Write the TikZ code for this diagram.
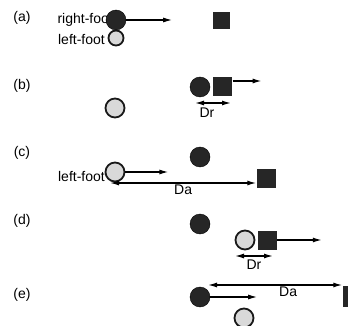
\documentclass[tikz,border=0pt]{standalone}
\usepackage{fontspec}
\setmainfont{Liberation Sans}
\usetikzlibrary{positioning,arrows.meta}
\begin{document}
\begin{tikzpicture}[x=1pt, y=-1pt,
    rfoot/.style={circle, draw=black, fill=black!85, minimum size=20pt, inner sep=0pt},
    lfoot/.style={circle, draw=black!90, line width=1.8pt, fill=gray!30, minimum size=18pt, inner sep=0pt},
    target/.style={rectangle, fill=black!85, minimum size=19pt, inner sep=0pt},
    lbl/.style={font=\fontsize{14}{16}\selectfont, inner sep=1pt},
    mv/.style={-{Latex[length=9pt, width=5pt]}, line width=1.3pt},
    dist/.style={{Latex[length=9pt, width=5pt]}-{Latex[length=9pt, width=5pt]}, line width=1.3pt}]
    \useasboundingbox (0,0) rectangle (348,326);
    \clip (0,0) rectangle (348,326);

    % (a)
    \node [lbl] (tagA) at (22,18) {(a)};
    \node [lbl, anchor=east] (rtextA) at (114,20) {right-foot};
    \node [lbl, anchor=east] (ltextA) at (106,39) {left-foot};
    \node [rfoot] (rfootA) at (116,20) {};
    \node [lfoot, minimum size=15pt] (lfootA) at (116,38) {};
    \node [target, minimum size=17pt] (targetA) at (221,21) {};
    \coordinate [right=46pt of rfootA] (goA);
    \draw [mv] (rfootA) -- (goA);

    % (b)
    \node [lbl] (tagB) at (22,86) {(b)};
    \node [rfoot] (rfootB) at (200,87) {};
    \node [target, right=3pt of rfootB] (targetB) {};
    \node [lfoot, minimum size=19pt] (lfootB) at (115,108) {};
    \coordinate (goB) at ([xshift=29pt, yshift=6pt]targetB.east);
    \draw [mv] ([yshift=6pt]targetB.east) -- (goB);
    \coordinate (drLB) at (195,103);
    \coordinate (drRB) at (231,103);
    \draw [dist] (drLB) -- node [lbl, below=3pt, xshift=-6pt] (drB) {Dr} (drRB);

    % (c)
    \node [lbl] (tagC) at (22,153) {(c)};
    \node [rfoot] (rfootC) at (200,157) {};
    \node [lbl, anchor=east] (ltextC) at (106,176) {left-foot};
    \node [lfoot, minimum size=19pt] (lfootC) at (115,172) {};
    \coordinate [right=43pt of lfootC] (goC);
    \draw [mv] (lfootC) -- (goC);
    \node [target] (targetC) at (266,178) {};
    \coordinate (daLC) at (110,183);
    \draw [dist] (daLC) -- node [lbl, below=0pt] (daC) {Da} (daLC -| targetC.west);

    % (d)
    \node [lbl] (tagD) at (22,221) {(d)};
    \node [rfoot] (rfootD) at (200,224) {};
    \node [lfoot, minimum size=19pt] (lfootD) at (245,240) {};
    \node [target, right=2pt of lfootD] (targetD) {};
    \coordinate [right=45pt of targetD] (goD);
    \draw [mv] (targetD) -- (goD);
    \coordinate (drLD) at (235,256);
    \coordinate (drRD) at (273,256);
    \draw [dist] (drLD) -- node [lbl, below=2pt] (drD) {Dr} (drRD);

    % (e)
    \node [lbl] (tagE) at (22,295) {(e)};
    \node [rfoot] (rfootE) at (200,297) {};
    \node [lfoot, minimum size=19pt] (lfootE) at (244,318) {};
    \coordinate [right=47pt of rfootE] (goE);
    \draw [mv] (rfootE) -- (goE);
    \node [target, minimum size=21pt] (targetE) at (353,296) {};
    \coordinate (daLE) at (208,285);
    \draw [dist] (daLE) -- node [lbl, below=0pt, xshift=13pt] (daE) {Da} (daLE -| targetE.west);
\end{tikzpicture}
\end{document}
